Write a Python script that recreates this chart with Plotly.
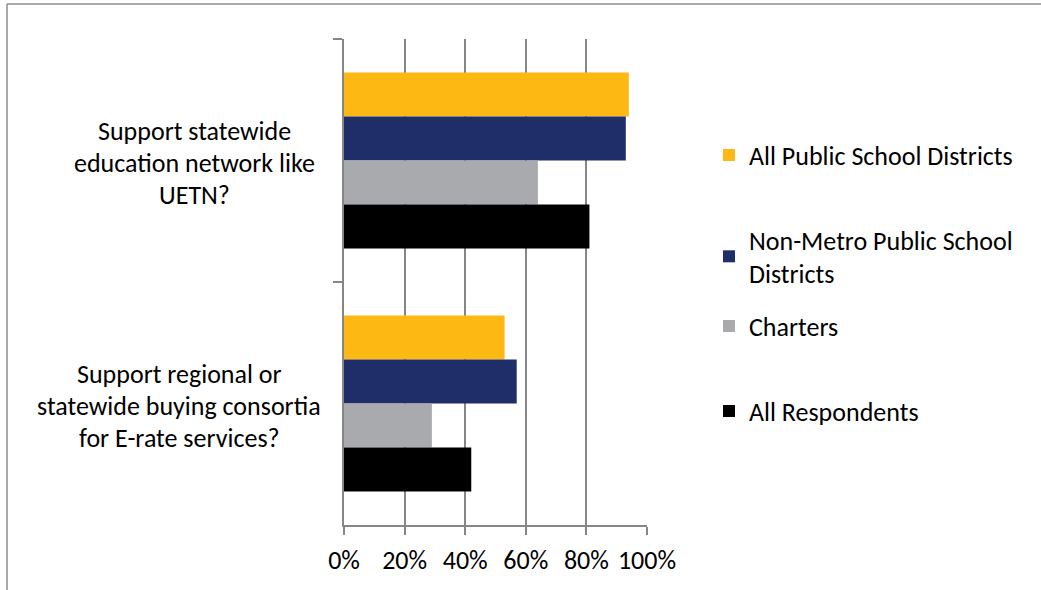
import plotly.graph_objects as go

categories = ["Support statewide education network like UETN?",
              "Support regional or statewide buying consortia for E-rate services?"]
category_lines = [["Support statewide", "education network like", "UETN?"],
                  ["Support regional or", "statewide buying consortia", "for E-rate services?"]]
series_names = ["All Public School Districts", "Non-Metro Public School<br>Districts",
                "Charters", "All Respondents"]
all_public = [94, 53]
non_metro = [93, 57]
charters = [64, 29]
all_respondents = [81, 42]
x_ticks = [0, 20, 40, 60, 80, 100]
x_tick_labels = ["0%", "20%", "40%", "60%", "80%", "100%"]

colors = ["#FDB813", "#1F2D69", "#A9AAAE", "#000000"]
series_values = [all_public, non_metro, charters, all_respondents]

W, H = 1041, 590
L, R, T, B = 344, 394, 39, 65
PW, PH = W - L - R, H - T - B
FONT = "Carlito, Lato, sans-serif"
FS = 26


def xp(px):
    return (px - L) / PW


def yp(py):
    return (H - B - py) / PH


fig = go.Figure()
legend_ids = ["legend", "legend2", "legend3", "legend4"]
for name, vals, col, lg in zip(series_names, series_values, colors, legend_ids):
    fig.add_trace(go.Bar(
        y=categories, x=vals, name=name, orientation="h",
        marker=dict(color=col, line=dict(width=0)),
        legend=lg, showlegend=True,
    ))

legend_y_px = [155, 256.5, 326, 411]
legend_common = dict(xanchor="left", yanchor="middle", bgcolor="rgba(0,0,0,0)",
                     borderwidth=0, font=dict(family=FONT, size=FS, color="#000000"),
                     itemclick=False, itemdoubleclick=False, visible=True)
legend_layout = {}
for lg, ypx in zip(legend_ids, legend_y_px):
    legend_layout[lg] = dict(x=xp(709), y=yp(ypx), **legend_common)

annotations = []
centers_px = [194, 179]
for cat, lines, cx in zip(categories, category_lines, centers_px):
    for i, line in enumerate(lines):
        annotations.append(dict(
            text=line, xref="paper", x=xp(cx), xanchor="center",
            yref="y", y=cat, yanchor="middle", yshift=(1 - i) * 32 - 2,
            showarrow=False, font=dict(family=FONT, size=FS, color="#000000"),
        ))

frame_color = "#8C8C8C"
shapes = [
    dict(type="line", xref="paper", yref="paper", x0=xp(7), x1=xp(7), y0=yp(H + 5), y1=yp(4),
         line=dict(color=frame_color, width=1.5)),
    dict(type="line", xref="paper", yref="paper", x0=xp(7), x1=xp(W + 5), y0=yp(4), y1=yp(4),
         line=dict(color=frame_color, width=1.5)),
]

axis_gray = "#868686"
fig.update_layout(
    width=W, height=H,
    margin=dict(l=L, r=R, t=T, b=B),
    paper_bgcolor="white", plot_bgcolor="white",
    barmode="group", bargap=0.276, bargroupgap=0,
    showlegend=True,
    font=dict(family=FONT, size=FS, color="#000000"),
    annotations=annotations, shapes=shapes,
    **legend_layout,
)
fig.update_xaxes(
    range=[0, 100], tickvals=x_ticks, ticktext=x_tick_labels,
    showgrid=True, gridcolor=axis_gray, gridwidth=1.5,
    showline=True, linecolor=axis_gray, linewidth=1.5,
    ticks="outside", ticklen=8, tickcolor=axis_gray, tickwidth=1.5,
    ticklabelstandoff=3,
    tickfont=dict(family=FONT, size=FS, color="#000000"),
    zeroline=False, fixedrange=True,
)
fig.update_yaxes(
    autorange="reversed", showticklabels=False,
    showline=True, linecolor=axis_gray, linewidth=1.5,
    ticks="outside", ticklen=9, tickcolor=axis_gray, tickwidth=1.5,
    tickson="boundaries", showgrid=False, zeroline=False, fixedrange=True,
)

fig.write_html("out.html", config={"displayModeBar": False})
